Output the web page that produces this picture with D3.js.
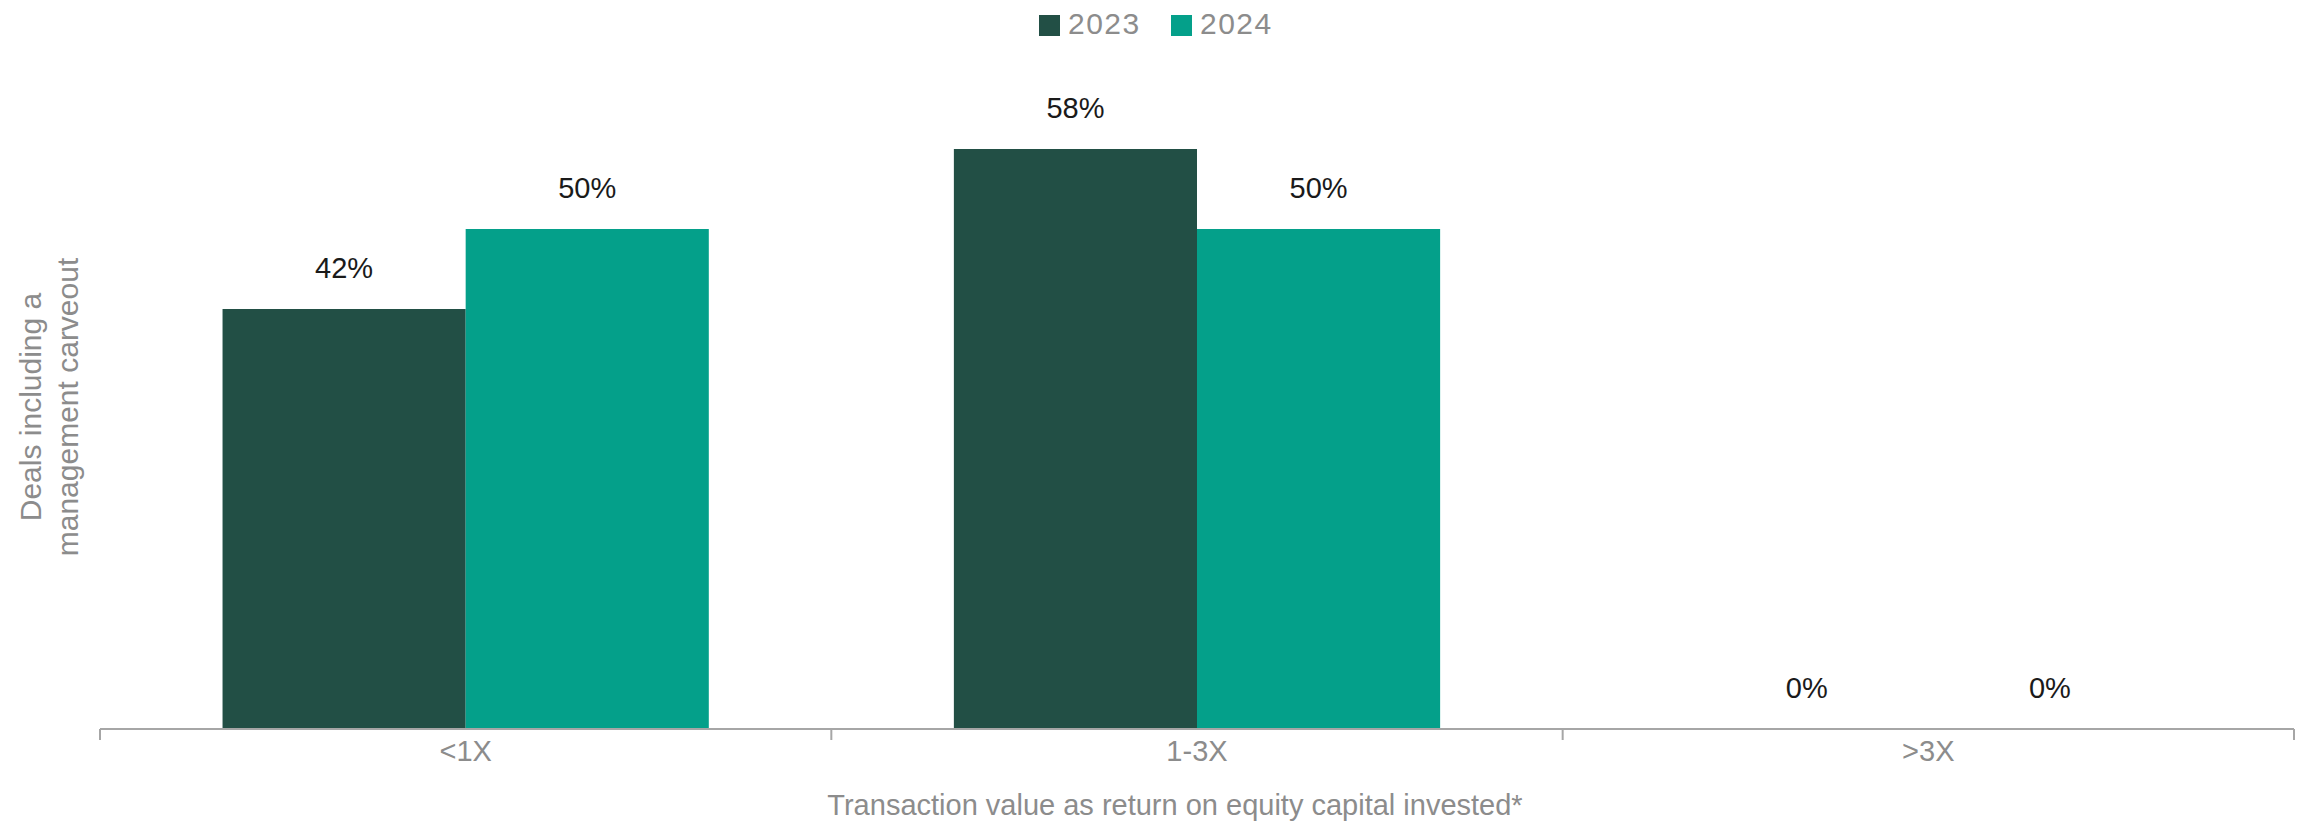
<!DOCTYPE html>
<html>
<head>
<meta charset="utf-8">
<script src="https://cdn.jsdelivr.net/npm/d3@7"></script>
<style>
  html, body { margin: 0; padding: 0; background: #ffffff; }
  svg { display: block; }
  text { font-family: "Liberation Sans", Arial, Helvetica, sans-serif; }
</style>
</head>
<body>
<svg id="chart" width="2303" height="822"></svg>
<script>
// Return buckets (transaction value as multiple of equity invested)
const categories = ["<1X", "1-3X", ">3X"];
const years = ["2023", "2024"];
const values2023 = [42, 58, 0];
const values2024 = [50, 50, 0];
const yearColors = ["#224f45", "#04a08a"];

const width = 2303, height = 822;
const margin = { left: 100, right: 9, top: 29, bottom: 93 };

const svg = d3.select("#chart");

const x0 = d3.scaleBand()
  .domain(categories)
  .range([margin.left, width - margin.right])
  .paddingInner(0)
  .paddingOuter(0);

const x1 = d3.scaleBand()
  .domain(years)
  .range([0, x0.bandwidth()])
  .paddingInner(0)
  .paddingOuter(0.504);

const y = d3.scaleLinear()
  .domain([0, 70])
  .range([height - margin.bottom, margin.top]);

const color = d3.scaleOrdinal().domain(years).range(yearColors);

const rows = categories.map((c, i) => ({
  category: c,
  items: [
    { year: "2023", value: values2023[i] },
    { year: "2024", value: values2024[i] }
  ]
}));

// Bars
const groups = svg.append("g")
  .selectAll("g")
  .data(rows)
  .join("g")
  .attr("transform", d => `translate(${x0(d.category)},0)`);

groups.selectAll("rect")
  .data(d => d.items)
  .join("rect")
  .attr("x", d => x1(d.year))
  .attr("y", d => y(d.value))
  .attr("width", x1.bandwidth())
  .attr("height", d => y(0) - y(d.value))
  .attr("fill", d => color(d.year));

// Value labels above bars
groups.selectAll("text")
  .data(d => d.items)
  .join("text")
  .attr("x", d => x1(d.year) + x1.bandwidth() / 2)
  .attr("y", d => y(d.value) - 31)
  .attr("text-anchor", "middle")
  .attr("font-size", 29)
  .attr("fill", "#1a1a1a")
  .text(d => d.value + "%");

// X axis with category boundaries as ticks
const axisY = y(0);
const axisG = svg.append("g").attr("transform", `translate(0,${axisY})`);
axisG.append("line")
  .attr("x1", x0.range()[0])
  .attr("x2", x0.range()[1])
  .attr("stroke", "#a6a6a6")
  .attr("stroke-width", 2);

const boundaries = categories.map(c => x0(c)).concat([x0.range()[1]]);
axisG.selectAll("line.tick")
  .data(boundaries)
  .join("line")
  .attr("class", "tick")
  .attr("x1", d => d)
  .attr("x2", d => d)
  .attr("y1", 0)
  .attr("y2", 11)
  .attr("stroke", "#a6a6a6")
  .attr("stroke-width", 2);

axisG.selectAll("text")
  .data(categories)
  .join("text")
  .attr("x", d => x0(d) + x0.bandwidth() / 2)
  .attr("y", 32)
  .attr("text-anchor", "middle")
  .attr("font-size", 29)
  .attr("fill", "#8c8c8c")
  .text(d => d);

// X axis title
svg.append("text")
  .attr("x", 1175)
  .attr("y", 815)
  .attr("text-anchor", "middle")
  .attr("font-size", 29)
  .attr("fill", "#8c8c8c")
  .text("Transaction value as return on equity capital invested*");

// Y axis title (two lines, rotated)
const yTitle = svg.append("text")
  .attr("transform", "translate(0,407) rotate(-90)")
  .attr("text-anchor", "middle")
  .attr("font-size", 30)
  .attr("fill", "#8c8c8c");
yTitle.append("tspan").attr("x", 0).attr("y", 41).text("Deals including a");
yTitle.append("tspan").attr("x", 0).attr("y", 78).text("management carveout");

// Legend
const legendItems = [
  { year: "2023", x: 1039 },
  { year: "2024", x: 1171 }
];
const legend = svg.append("g");
legend.selectAll("rect")
  .data(legendItems)
  .join("rect")
  .attr("x", d => d.x)
  .attr("y", 15)
  .attr("width", 21)
  .attr("height", 21)
  .attr("fill", d => color(d.year));
legend.selectAll("text")
  .data(legendItems)
  .join("text")
  .attr("x", d => d.x + 29)
  .attr("y", 34)
  .attr("font-size", 30)
  .attr("letter-spacing", 1.5)
  .attr("fill", "#8c8c8c")
  .text(d => d.year);
</script>
</body>
</html>
